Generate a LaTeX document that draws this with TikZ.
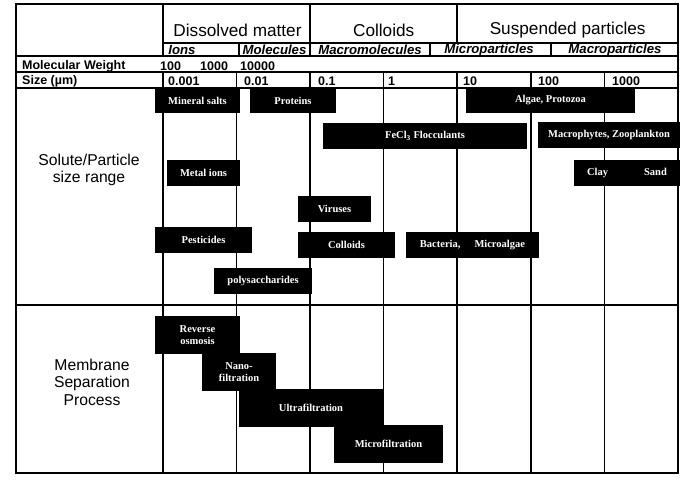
\documentclass[tikz,border=0pt]{standalone}
\usepackage{fontspec}
\setmainfont{Liberation Serif}
\setsansfont{Liberation Sans}
\usepackage{tikz}
\newcommand{\band}[6] {
    \node[band,minimum width={#4-#2},minimum height={#5-#3}] (#1) at ({(#2+#4)/2}, {(#3+#5)/2}) {#6};
}
\newcommand{\chart} {
    \tikzset{
        rule/.style={
            line width=1.2pt,
            line cap=rect
        },
        band/.style={
            rectangle,
            fill=black,
            text=white,
            inner sep=0mm,
            outer sep=0mm,
            align=center,
            font=\rmfamily\bfseries\fontsize{10.5}{12.5}\selectfont
        },
        head/.style={font=\sffamily\fontsize{17.2}{20}\selectfont},
        subhead/.style={font=\sffamily\bfseries\itshape\fontsize{13.2}{15}\selectfont},
        rowlab/.style={font=\sffamily\bfseries\fontsize{12.5}{14}\selectfont,anchor=west,inner sep=0mm},
        sidelab/.style={font=\sffamily\fontsize{15.7}{17.5}\selectfont,align=center}
    }
    \draw[rule] (16,4) rectangle (678,473);
    \draw[rule] (163,43) -- (678,43);
    \foreach \y in {56,72,88,305}
        \draw[rule] (16,\y) -- (678,\y);
    \foreach \x in {163,310}
        \draw[rule] (\x,4) -- (\x,56);
    \draw[rule] (457,4) -- (457,43);
    \foreach \x in {163,236.6,310,383.7,457,530.9,604.4}
        \draw[rule] (\x,72) -- (\x,473);
    \foreach \x in {239,430,551}
        \draw[rule] (\x,43) -- (\x,56);
}

\begin{document}
\begin{tikzpicture}[x=1pt,y=-1pt]
    \useasboundingbox (0,0) rectangle (699,487);
    \chart
    \node[head] (dissolved) at (237.5,30.5) {Dissolved matter};
    \node[head] (colloidhead) at (383.7,30.5) {Colloids};
    \node[head] (suspended) at (567.7,30.5) {Suspended particles};
    \node[subhead] (ions) at (182,50) {Ions};
    \node[subhead] (molecules) at (274.5,50) {Molecules};
    \node[subhead] (macromol) at (370,50) {Macromolecules};
    \node[subhead] (micropart) at (489,50) {Microparticles};
    \node[subhead] (macropart) at (615,50) {Macroparticles};
    \node[rowlab] (mw) at (22,66) {Molecular Weight};
    \node[rowlab] (mwa) at (160,66) {100};
    \node[rowlab] (mwb) at (200,66) {1000};
    \node[rowlab] (mwc) at (240,66) {10000};
    \node[rowlab] (size) at (22,81.5) {Size (µm)};
    \node[rowlab] (sa) at (168,81.5) {0.001};
    \node[rowlab] (sb) at (244,81.5) {0.01};
    \node[rowlab] (sc) at (318,81.5) {0.1};
    \node[rowlab] (sd) at (388,81.5) {1};
    \node[rowlab] (se) at (463,81.5) {10};
    \node[rowlab] (sf) at (538,81.5) {100};
    \node[rowlab] (sg) at (612,81.5) {1000};
    \node[sidelab] (solute) at (89,170) {Solute/Particle\\size range};
    \node[sidelab] (membrane) at (92,382) {Membrane\\Separation\\Process};
    \band{minsalts}{155}{88}{240}{113}{Mineral salts}
    \band{proteins}{250}{88}{336}{113}{Proteins}
    \band{algae}{466}{88}{635}{113}{Algae, Protozoa}
    \band{flocc}{323}{123}{527}{149}{FeCl\textsubscript{3} Flocculants}
    \band{macrophytes}{538}{122}{680}{148}{Macrophytes, Zooplankton}
    \band{metalions}{167}{160}{240}{186}{Metal ions}
    \band{claysand}{574}{160}{680}{186}{Clay\hspace{36pt}Sand}
    \band{viruses}{298}{196}{371}{222}{Viruses}
    \band{pesticides}{155}{227}{252}{253}{Pesticides}
    \band{colloids}{298}{232}{395}{258}{Colloids}
    \band{bacteria}{406}{232}{539}{258}{Bacteria,\hspace{14pt}Microalgae}
    \band{polysacch}{214}{268}{312}{294}{polysaccharides}
    \band{ro}{155}{316}{240}{354}{Reverse\\osmosis}
    \band{nf}{202}{353}{276}{391}{Nano-\\filtration}
    \band{uf}{239}{389}{383}{427}{Ultrafiltration}
    \band{mf}{334}{425}{443}{463}{Microfiltration}
\end{tikzpicture}
\end{document}
